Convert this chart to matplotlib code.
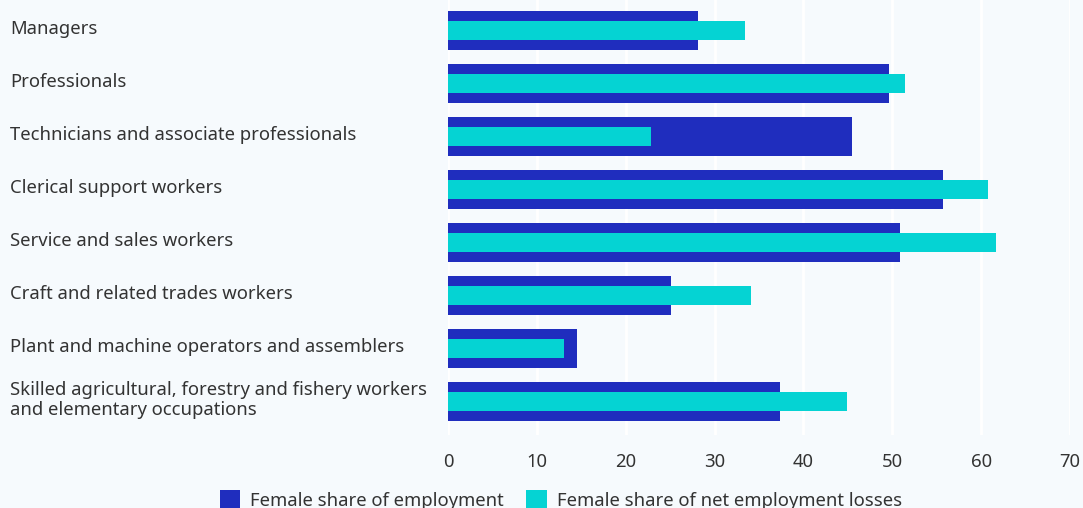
import matplotlib
matplotlib.use("Agg")
import matplotlib.pyplot as plt
from matplotlib.patches import Patch
from matplotlib.transforms import blended_transform_factory

categories = [
    "Managers",
    "Professionals",
    "Technicians and associate professionals",
    "Clerical support workers",
    "Service and sales workers",
    "Craft and related trades workers",
    "Plant and machine operators and assemblers",
    "Skilled agricultural, forestry and fishery workers\nand elementary occupations",
]
employment_share = [28.1, 49.6, 45.5, 55.7, 50.9, 25.1, 14.5, 37.4]
losses_share = [33.4, 51.4, 22.8, 60.8, 61.7, 34.1, 13.0, 44.9]
xticks = [0, 10, 20, 30, 40, 50, 60, 70]
series_names = ["Female share of employment", "Female share of net employment losses"]

BG = "#f6fafd"
DARK = "#1f2dbe"
CYAN = "#05d3d3"
TXT = "#333333"
FS = 13.3

plt.rcParams["font.family"] = ["Noto Sans", "DejaVu Sans"]

W, H = 1083, 508
fig = plt.figure(figsize=(W / 100, H / 100), dpi=100, facecolor=BG)
ax = fig.add_axes([448 / W, 1 - 435 / H, (1070 - 448) / W, 435 / H])
ax.set_facecolor(BG)

y = list(range(len(categories)))
ax.barh(y, employment_share, height=39 / 53, color=DARK, zorder=2)
ax.barh(y, losses_share, height=19 / 53, color=CYAN, zorder=3)

ax.set_xlim(0, 70)
ax.set_ylim(7 + 33.5 / 53, -30.5 / 53)
ax.set_xticks(xticks)
ax.set_xticklabels([str(t) for t in xticks], fontsize=FS, color=TXT)
ax.set_yticks([])
ax.tick_params(axis="x", length=0, pad=13)
ax.grid(axis="x", color="white", linewidth=2, zorder=0)
for s in ax.spines.values():
    s.set_visible(False)

tr = blended_transform_factory(fig.transFigure, ax.transData)
for yi, cat in zip(y, categories):
    ax.text(10 / W, yi - 0.03, cat, transform=tr,
            ha="left", va="center", fontsize=FS, color=TXT, linespacing=1.12)

handles = [Patch(facecolor=DARK), Patch(facecolor=CYAN)]
fig.legend(handles, series_names, loc="center", bbox_to_anchor=(561 / W, 1 - 500 / H),
           ncol=2, frameon=False, fontsize=FS, labelcolor=TXT,
           handlelength=1.1, handleheight=1.1, handletextpad=0.55, columnspacing=1.2)

fig.savefig("out.png", dpi=100, facecolor=BG)
